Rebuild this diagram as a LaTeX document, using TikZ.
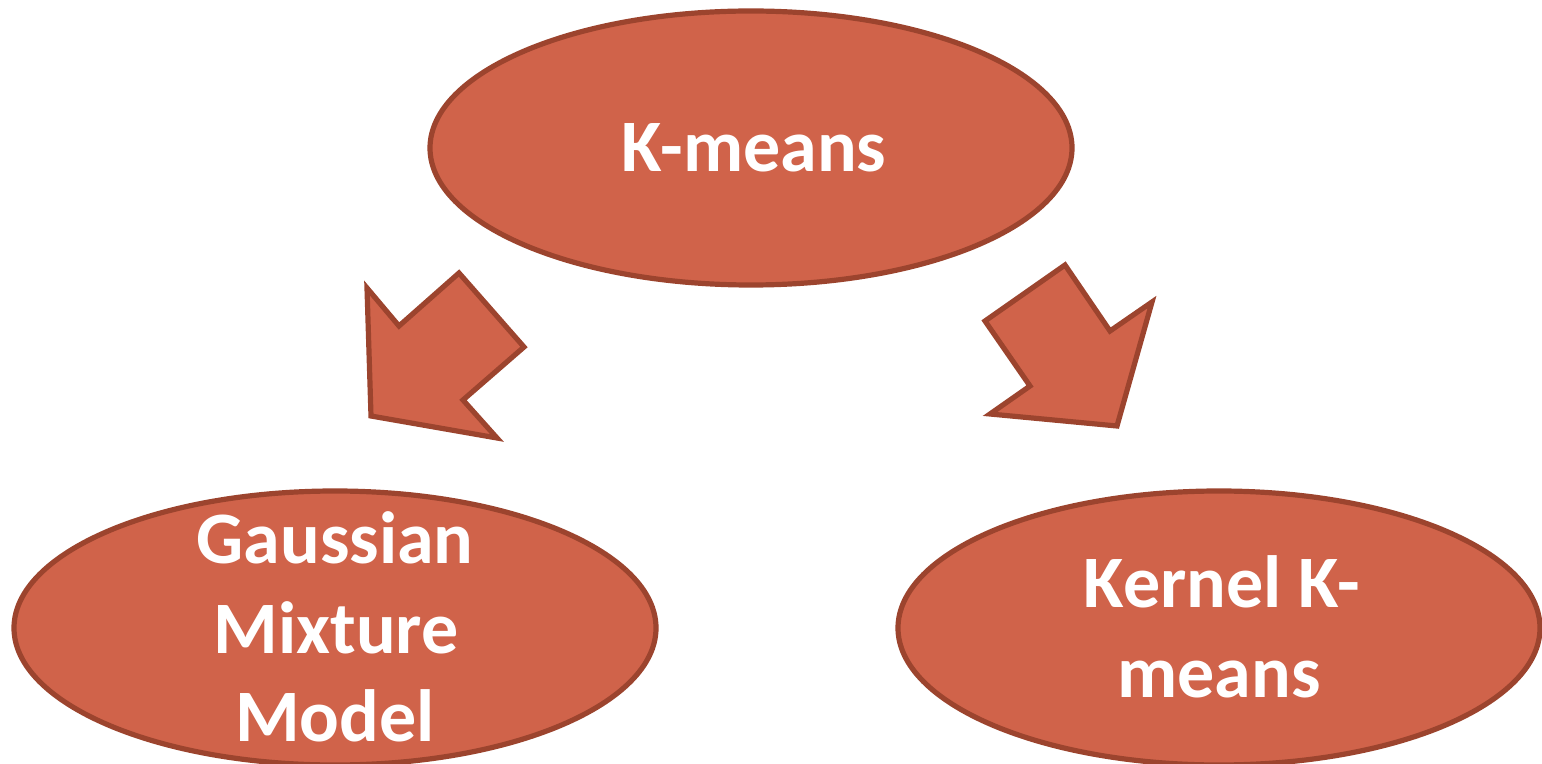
\documentclass[tikz,border=0pt]{standalone}
\usepackage{fontspec}
\setmainfont{Carlito}
\definecolor{fillc}{RGB}{208,99,74}
\definecolor{edgec}{RGB}{156,68,46}
\begin{document}
\begin{tikzpicture}[x=0.5pt,y=-0.5pt,
  shapestyle/.style={fill=fillc,draw=edgec,line width=2.6pt,line join=miter},
  lbl/.style={text=white,font=\fontsize{37}{44.5}\selectfont\bfseries,anchor=base,inner sep=0pt}]
\useasboundingbox (0,0) rectangle (1542,764);
\begin{scope}
\clip (0,0) rectangle (1542,764);
\draw[shapestyle] (751,148) ellipse [x radius=321, y radius=137];
\draw[shapestyle] (335,628) ellipse [x radius=321, y radius=137];
\draw[shapestyle] (1219,628) ellipse [x radius=321, y radius=137];
\draw[shapestyle] (367,288) -- (399,326) -- (459,273) -- (524,347) -- (463,400) -- (497,438) -- (371,416) -- cycle;
\draw[shapestyle] (985,321) -- (1065,265) -- (1110,331) -- (1152,302) -- (1117,426) -- (990,414) -- (1030,386) -- cycle;
\end{scope}
\node[lbl] (km) at (754,172) {K-means};
\node[lbl] (g1) at (335,563) {Gaussian};
\node[lbl] (g2) at (336,653) {Mixture};
\node[lbl] (g3) at (335,741) {Model};
\node[lbl] (k1) at (1222,607) {Kernel K-};
\node[lbl] (k2) at (1219,697) {means};
\end{tikzpicture}
\end{document}
